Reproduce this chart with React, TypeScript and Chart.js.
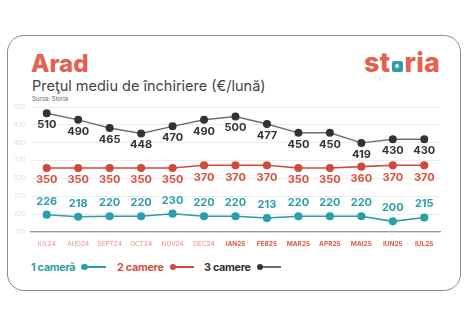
import React, { useEffect, useRef } from "react";
import { Chart, registerables } from "chart.js";

Chart.register(...registerables);

const categories = ["IUL24", "AUG24", "SEPT24", "OCT24", "NOV24", "DEC24", "IAN25", "FEB25", "MAR25", "APR25", "MAI25", "IUN25", "IUL25"];
const oneRoom = [226, 218, 220, 220, 230, 220, 220, 213, 220, 220, 220, 200, 215];
const twoRooms = [350, 350, 350, 350, 350, 370, 370, 370, 350, 350, 360, 370, 370];
const threeRooms = [510, 490, 465, 448, 470, 490, 500, 477, 450, 450, 419, 430, 430];
const yTicks = [520, 470, 420, 370, 320, 270, 220, 170];

const TEAL = "#2a9eaa";
const RED = "#cf4a3e";
const RED_LABEL = "#d9503f";
const DARK = "#333333";
const GRAY_LINE = "#6e6e6e";
const FONT = "Inter, 'Noto Sans', sans-serif";

const labelPlugin = {
  id: "valueLabels",
  afterDatasetsDraw(chart: any) {
    const ctx = chart.ctx;
    ctx.save();
    ctx.textAlign = "center";
    ctx.textBaseline = "middle";
    chart.data.datasets.forEach((ds: any, i: number) => {
      const meta = chart.getDatasetMeta(i);
      ctx.fillStyle = ds.labelColor;
      ctx.font = `700 11px ${FONT}`;
      meta.data.forEach((pt: any, j: number) => {
        ctx.fillText(String(ds.data[j]), pt.x, pt.y + ds.labelOffset);
      });
    });
    ctx.restore();
  },
};

export default function App() {
  const ref = useRef<HTMLCanvasElement | null>(null);
  useEffect(() => {
    if (!ref.current) return;
    const chart = new Chart(ref.current, {
      type: "line",
      data: {
        labels: categories,
        datasets: [
          {
            label: "1 cameră",
            data: oneRoom,
            yAxisID: "y3",
            borderColor: TEAL,
            backgroundColor: TEAL,
            pointBackgroundColor: TEAL,
            pointBorderColor: TEAL,
            borderWidth: 1.6,
            pointRadius: 3.3,
            labelColor: TEAL,
            labelOffset: -13.5,
          } as any,
          {
            label: "2 camere",
            data: twoRooms,
            yAxisID: "y2",
            borderColor: RED,
            backgroundColor: RED,
            pointBackgroundColor: RED,
            pointBorderColor: RED,
            borderWidth: 1.6,
            pointRadius: 3.3,
            labelColor: RED_LABEL,
            labelOffset: 12,
          } as any,
          {
            label: "3 camere",
            data: threeRooms,
            yAxisID: "y1",
            borderColor: GRAY_LINE,
            backgroundColor: DARK,
            pointBackgroundColor: DARK,
            pointBorderColor: DARK,
            borderWidth: 1.4,
            pointRadius: 3.3,
            labelColor: DARK,
            labelOffset: 11.5,
          } as any,
        ],
      },
      options: {
        animation: false,
        responsive: false,
        layout: { padding: { top: 12, right: 28, bottom: 3, left: 0 } },
        plugins: { legend: { display: false }, tooltip: { enabled: false } },
        scales: {
          x: {
            offset: true,
            grid: { display: false, drawTicks: false },
            border: { display: true, color: "#9a9a9a", width: 1.2 },
            ticks: {
              padding: 8,
              autoSkip: false,
              maxRotation: 0,
              color: (c: any) => (c.index >= 6 ? "#e0574a" : "#eb8f86"),
              font: (c: any) => ({ family: FONT, size: 6.5, weight: c.index >= 6 ? "bold" : "normal" }),
            },
            afterFit: (s: any) => { s.height = 20; },
          },
          y: {
            position: "left",
            min: 170,
            max: 520,
            afterBuildTicks: (s: any) => { s.ticks = yTicks.map((v) => ({ value: v })); },
            grid: { color: "#ececec", drawTicks: false, lineWidth: 1 },
            border: { display: false },
            ticks: { color: "#dcdcdc", padding: 6, font: { family: FONT, size: 6 } },
            afterFit: (s: any) => { s.width = 31; },
          },
          y1: { display: false, min: 145, max: 529.4 },
          y2: { display: false, min: -124, max: 802 },
          y3: { display: false, min: 158, max: 650 },
        },
      },
      plugins: [labelPlugin],
    });
    return () => chart.destroy();
  }, []);

  const legendItem = (text: string, color: string, dot: string, line: string, left: number) => (
    <div style={{ position: "absolute", left, top: 259, display: "flex", alignItems: "center", height: 16 }}>
      <span style={{ color, fontWeight: 700, fontSize: 10.8, fontFamily: FONT, letterSpacing: -0.3 }}>{text}</span>
      <span style={{ display: "inline-block", width: 6.5, height: 6.5, borderRadius: "50%", background: dot, marginLeft: 6 }} />
      <span style={{ display: "inline-block", width: 18, height: 1.5, background: line }} />
    </div>
  );

  return (
    <div style={{ position: "absolute", left: 0, top: 0, width: 468, height: 326, background: "#fff", overflow: "hidden" }}>
      <div style={{ position: "absolute", left: 7, top: 35, width: 452, height: 254, border: "1.5px solid #8c8c8c", borderRadius: 17 }} />
      <div style={{ position: "absolute", left: 31, top: 49, fontFamily: FONT, fontWeight: 800, fontSize: 24, color: "#e5604e", lineHeight: "30px" }}>Arad</div>
      <div style={{ position: "absolute", left: 364, top: 48, fontFamily: FONT, fontWeight: 800, fontSize: 27, color: "#e5604e", lineHeight: "30px", display: "flex", alignItems: "baseline", letterSpacing: 0.3 }}>
        <span>st</span>
        <span style={{ display: "inline-block", width: 11, height: 11.5, background: TEAL, borderRadius: 2, margin: "0 1.5px", position: "relative" }}>
          <span style={{ position: "absolute", left: 3.5, top: 3.7, width: 4, height: 4, borderRadius: "50%", background: "#eaf6f7" }} />
        </span>
        <span>ria</span>
      </div>
      <div style={{ position: "absolute", left: 32, top: 77, fontFamily: FONT, fontSize: 14.5, color: "#444", lineHeight: "17px" }}>Preţul mediu de închiriere (€/lună)</div>
      <div style={{ position: "absolute", left: 32, top: 95, fontFamily: FONT, fontSize: 6, color: "#666", lineHeight: "8px" }}>Sursa: Storia</div>
      <canvas ref={ref} width={468} height={160} style={{ position: "absolute", left: 0, top: 95, width: 468, height: 160 }} />
      {legendItem("1 cameră", TEAL, TEAL, TEAL, 31)}
      {legendItem("2 camere", "#d9503f", RED, RED, 117)}
      {legendItem("3 camere", DARK, DARK, GRAY_LINE, 204)}
    </div>
  );
}
